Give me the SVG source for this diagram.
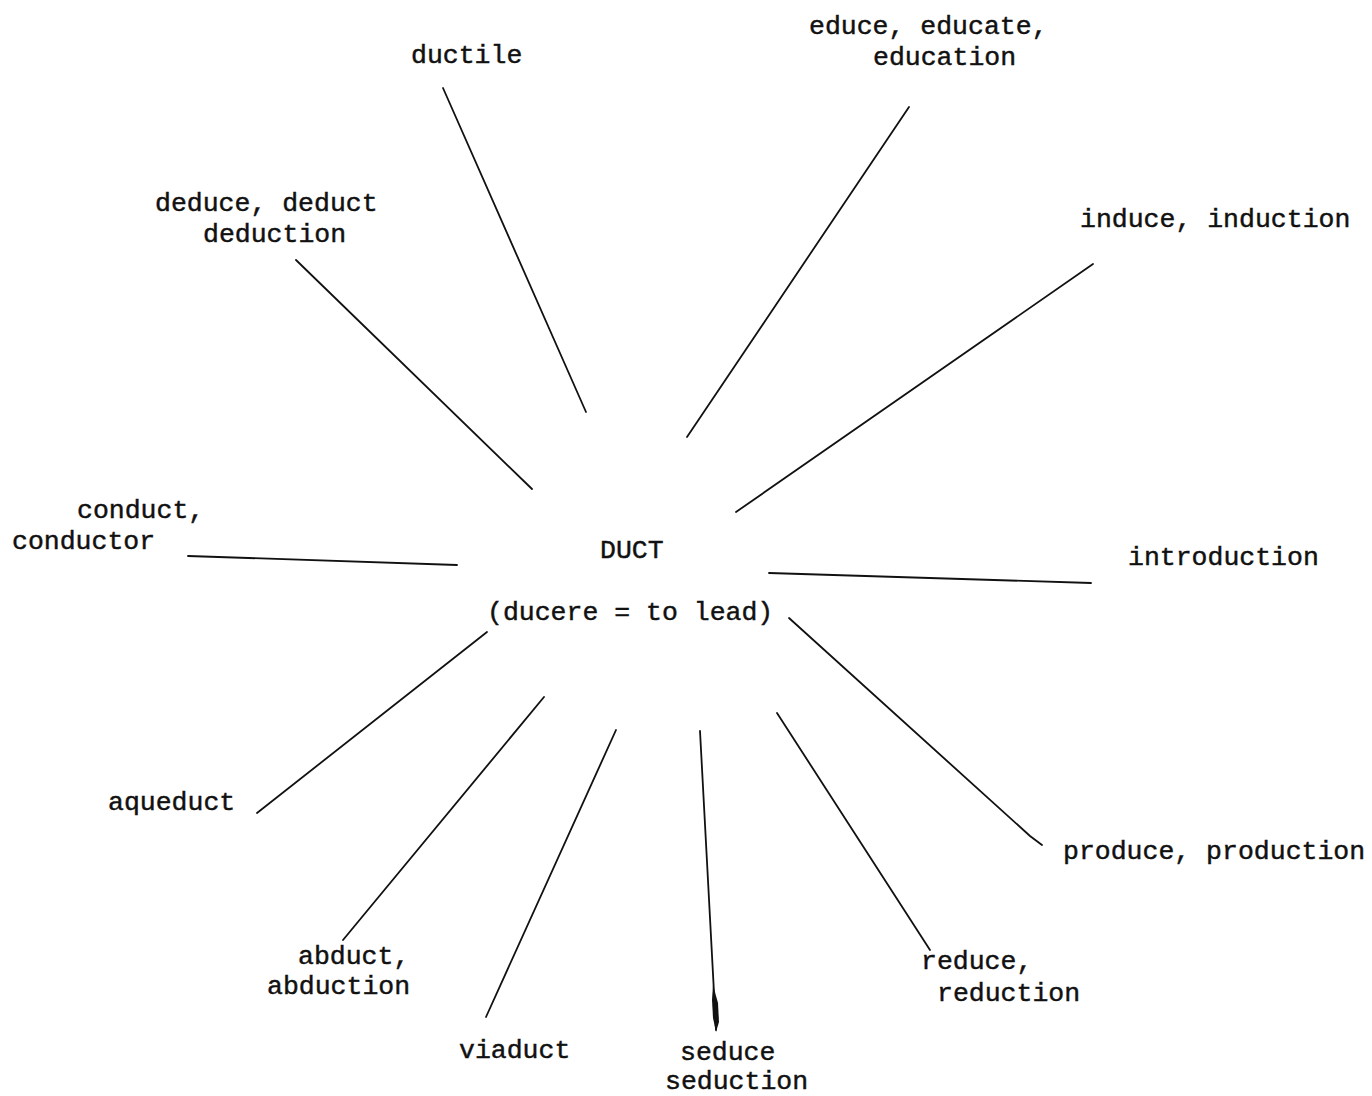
<svg xmlns="http://www.w3.org/2000/svg" width="1372" height="1096" viewBox="0 0 1372 1096">
<style>
text{font-family:"Liberation Mono","Courier New",monospace;font-size:26.5px;fill:#111;stroke:#111;stroke-width:0.45}
.c line,.c polyline{stroke:#111;stroke-width:1.8;fill:none;stroke-linecap:round}
</style>
<rect width="1372" height="1096" fill="#fff"/>
<g id="center">
<text x="600" y="558">DUCT</text>
<text x="487" y="620">(ducere = to lead)</text>
</g>
<g id="ductile"><text x="411" y="63">ductile</text></g>
<g id="educe"><text x="809" y="34">educe, educate,</text><text x="873" y="65">education</text></g>
<g id="deduce"><text x="155" y="211">deduce, deduct</text><text x="203" y="242">deduction</text></g>
<g id="induce"><text x="1080" y="227">induce, induction</text></g>
<g id="conduct"><text x="77" y="518">conduct,</text><text x="12" y="549">conductor</text></g>
<g id="introduction"><text x="1128" y="565">introduction</text></g>
<g id="aqueduct"><text x="108" y="810">aqueduct</text></g>
<g id="produce"><text x="1063" y="859">produce, production</text></g>
<g id="abduct"><text x="298" y="964">abduct,</text><text x="267" y="994">abduction</text></g>
<g id="reduce"><text x="921" y="969">reduce,</text><text x="937" y="1001">reduction</text></g>
<g id="viaduct"><text x="459" y="1058">viaduct</text></g>
<g id="seduce"><text x="680" y="1060">seduce</text><text x="665" y="1089">seduction</text></g>
<g id="connectors" class="c">
<line x1="443" y1="88" x2="586" y2="412"/>
<line x1="909" y1="107" x2="687" y2="437"/>
<line x1="296" y1="260" x2="532" y2="489"/>
<line x1="1093" y1="264" x2="736" y2="512"/>
<line x1="188" y1="556" x2="457" y2="565"/>
<line x1="769" y1="573" x2="1091" y2="583"/>
<line x1="487" y1="632" x2="257" y2="813"/>
<polyline points="789,618 1030,836 1042,845"/>
<line x1="544" y1="697" x2="343" y2="940"/>
<line x1="616" y1="730" x2="486" y2="1017"/>
<line x1="777" y1="713" x2="930" y2="950"/>
<line x1="700" y1="731" x2="716" y2="1030"/>
<polygon points="713,985 718,1003 719,1022 716,1032 713,1018 712,1000" fill="#111" stroke="none"/>
</g>
</svg>
